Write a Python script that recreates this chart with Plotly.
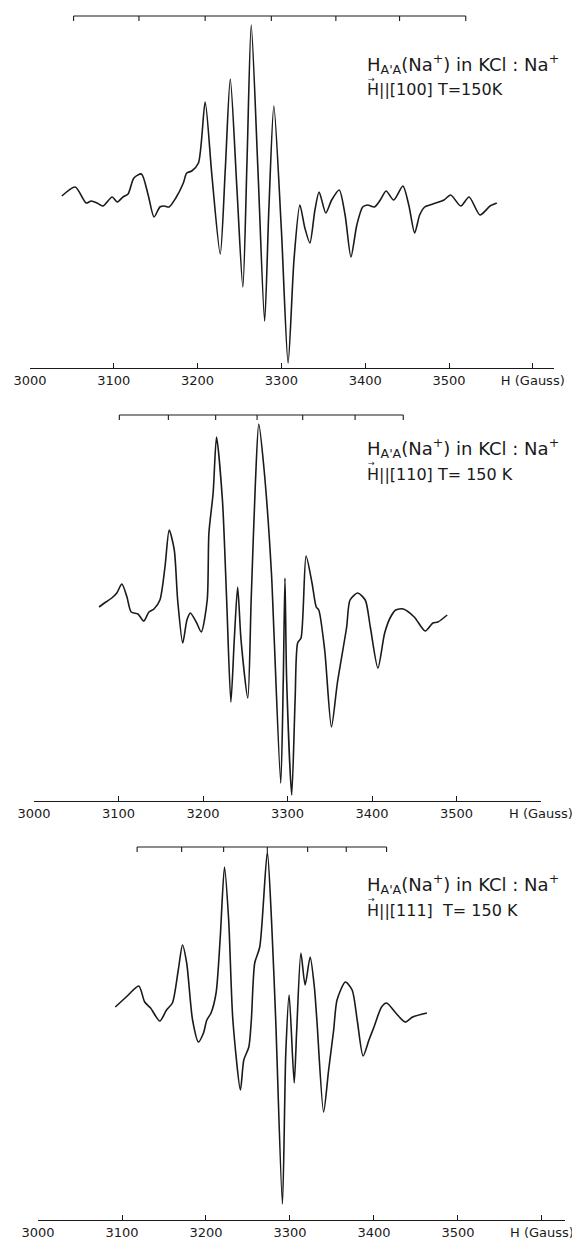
import plotly.graph_objects as go

W, H = 572, 1239

# ---------------- data (field in Gauss, derivative signal in arbitrary units) ----------------
field_100 = [3038, 3054, 3067, 3073, 3080, 3087, 3098, 3104, 3111, 3117, 3124, 3133, 3141, 3148,
             3155, 3160, 3166, 3174, 3183, 3187, 3193, 3201, 3209, 3217, 3227, 3233, 3239, 3247,
             3254, 3259, 3264, 3272, 3280, 3285, 3291, 3300, 3308, 3315, 3322, 3328, 3334, 3340,
             3345, 3353, 3360, 3369, 3376, 3383, 3390, 3397, 3403, 3411, 3418, 3425, 3434, 3445,
             3452, 3459, 3465, 3471, 3481, 3494, 3502, 3514, 3524, 3537, 3549, 3557]
signal_100 = [4, 13, -3, -1, -3, -6, 3, -2, 3, 6, 22, 26, 5, -17,
              -7, -6, -7, 2, 17, 27, 29, 37, 98, 25, -54, 30, 121, 10,
              -87, 40, 175, 30, -121, -10, 94, -30, -163, -60, -5, -28, -43, -10,
              8, -13, 0, 10, -15, -57, -25, -7, -5, -7, 0, 9, 0, 14,
              -5, -33, -15, -7, -4, 0, 5, -6, 3, -15, -6, -3]

field_110 = [3077, 3085, 3092, 3098, 3104, 3110, 3115, 3123, 3130, 3136, 3142, 3149, 3155, 3160,
             3166, 3170, 3176, 3181, 3185, 3192, 3198, 3205, 3207, 3212, 3216, 3223, 3228, 3233,
             3237, 3241, 3245, 3253, 3257, 3262, 3266, 3272, 3281, 3284, 3292, 3295, 3297, 3299,
             3305, 3309, 3312, 3316, 3322, 3329, 3334, 3337, 3344, 3352, 3359, 3370, 3374, 3383,
             3392, 3398, 3407, 3415, 3422, 3428, 3437, 3450, 3463, 3472, 3478, 3489]
signal_110 = [3, 8, 12, 17, 26, 13, -2, -4, -11, -2, 1, 10, 43, 80,
              60, 10, -33, -10, -3, -12, -22, 10, 77, 117, 173, 110, 10, -92,
              -30, 23, -30, -88, 10, 127, 186, 143, 37, -23, -173, -70, 32, -70,
              -185, -90, -33, -28, 54, 27, 3, 0, -40, -117, -73, -17, 10, 17,
              10, -17, -58, -23, -7, 0, 1, -7, -21, -13, -12, -5]

field_111 = [3092, 3105, 3120, 3127, 3134, 3145, 3153, 3160, 3167, 3172, 3177, 3184, 3191, 3197,
             3201, 3206, 3212, 3217, 3222, 3227, 3232, 3241, 3245, 3251, 3254, 3258, 3264, 3273,
             3278, 3283, 3291, 3295, 3299, 3305, 3308, 3313, 3318, 3324, 3329, 3332, 3340, 3346,
             3352, 3356, 3366, 3374, 3380, 3387, 3394, 3400, 3409, 3415, 3426, 3437, 3446, 3463]
signal_111 = [3, 13, 24, 8, 2, -11, 0, 7, 40, 65, 47, -10, -32, -23,
              -10, -3, 17, 73, 143, 90, -10, -80, -50, -37, -10, 47, 63, 158,
              90, -10, -194, -43, 15, -73, -20, 57, 25, 53, 23, -10, -102, -60,
              -20, 10, 28, 20, -10, -46, -30, -17, 3, 7, -3, -12, -7, -3]

# stick-diagram line positions (Gauss)
sticks_100 = [3052, 3130, 3209, 3288, 3365, 3441, 3520]
sticks_110 = [3101, 3159, 3215, 3264, 3318, 3380, 3437]
sticks_111 = [3118, 3171, 3221, 3273, 3321, 3367, 3415]

tick_values = [3000, 3100, 3200, 3300, 3400, 3500, 3600]
tick_labels = ["3000", "3100", "3200", "3300", "3400", "3500", "H (Gauss)"]

orientations = ["[100]", "[110]", "[111]"]
temp_labels = [" T=150K", " T= 150 K", "  T= 150 K"]
title_line = "H<sub>A'A</sub>(Na<sup>+</sup>) in KCl : Na<sup>+</sup>"

# ---------------- layout geometry (pixels) ----------------
panels = [
    dict(field=field_100, sig=signal_100, sticks=sticks_100, xl=30, xr=554, fr=3625.3,
         axis=368, top=8, base=200, stick=16, t1=64, t2=90),
    dict(field=field_110, sig=signal_110, sticks=sticks_110, xl=34, xr=541, fr=3600,
         axis=801, top=405, base=610, stick=415, t1=448, t2=474),
    dict(field=field_111, sig=signal_111, sticks=sticks_111, xl=38, xr=565, fr=3627.4,
         axis=1220, top=835, base=1010, stick=847, t1=884, t2=910),
]

INK = "#1a1a1a"
FONT = "DejaVu Sans"
fig = go.Figure()
annotations = []
layout = {}
for i, p in enumerate(panels, start=1):
    xa = "x" if i == 1 else f"x{i}"
    ya = "y" if i == 1 else f"y{i}"
    ymin = p["base"] - p["axis"]
    ymax = p["base"] - p["top"]
    fig.add_trace(go.Scatter(x=p["field"], y=p["sig"], mode="lines", xaxis=xa, yaxis=ya,
                             line=dict(color=INK, width=1.6, shape="spline", smoothing=0.7),
                             showlegend=False, hoverinfo="skip"))
    # stick diagram
    ys_line = p["base"] - p["stick"]
    ys_tick = ys_line - 5
    sx, sy = [p["sticks"][0], p["sticks"][-1], None], [ys_line, ys_line, None]
    for s in p["sticks"]:
        sx += [s, s, None]
        sy += [ys_line, ys_tick, None]
    fig.add_trace(go.Scatter(x=sx, y=sy, mode="lines", xaxis=xa, yaxis=ya,
                             line=dict(color=INK, width=1.1), showlegend=False, hoverinfo="skip"))
    layout["xaxis" if i == 1 else f"xaxis{i}"] = dict(
        domain=[p["xl"] / W, p["xr"] / W], range=[3000, p["fr"]], anchor=ya,
        tickvals=tick_values, ticktext=tick_labels, ticks="inside", ticklen=5, tickwidth=1.2,
        tickcolor=INK, showline=True, linecolor=INK, linewidth=1.3, showgrid=False,
        zeroline=False, tickfont=dict(family=FONT, size=13, color=INK),
        ticklabeloverflow="allow", automargin=False, fixedrange=True)
    layout["yaxis" if i == 1 else f"yaxis{i}"] = dict(
        domain=[1 - p["axis"] / H, 1 - p["top"] / H], range=[ymin, ymax], anchor=xa,
        visible=False, automargin=False, fixedrange=True)
    annotations.append(dict(xref="paper", yref="paper", x=365 / W, y=1 - p["t1"] / H,
                            xanchor="left", yanchor="middle", showarrow=False, text=title_line,
                            font=dict(family=FONT, size=18, color=INK)))
    annotations.append(dict(xref="paper", yref="paper", x=365 / W, y=1 - p["t2"] / H,
                            xanchor="left", yanchor="middle", showarrow=False,
                            text=f"H||{orientations[i-1]}{temp_labels[i-1]}",
                            font=dict(family=FONT, size=16, color=INK)))
    annotations.append(dict(xref="paper", yref="paper", x=366 / W, y=1 - (p["t2"] - 11) / H,
                            xanchor="left", yanchor="middle", showarrow=False, text="→",
                            font=dict(family=FONT, size=8, color=INK)))

fig.update_layout(width=W, height=H, margin=dict(l=0, r=0, t=0, b=0),
                  paper_bgcolor="white", plot_bgcolor="white", annotations=annotations,
                  **layout)
fig.write_html("out.html")
